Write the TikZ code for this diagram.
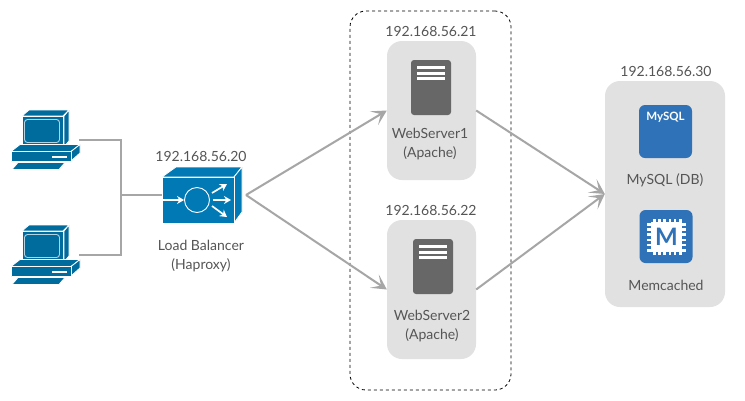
\documentclass[tikz,border=0pt]{standalone}
\usepackage{fontspec}
\setmainfont{Lato}
\usetikzlibrary{arrows.meta}
\definecolor{pcblue}{HTML}{006C9E}
\definecolor{lbblue}{HTML}{0079B5}
\definecolor{appblue}{HTML}{2F72B8}
\definecolor{boxgray}{HTML}{E1E1E1}
\definecolor{srvgray}{HTML}{676767}
\definecolor{txtgray}{HTML}{555555}
\definecolor{linegray}{HTML}{A6A6A6}
\tikzset{
  panel/.style={draw=none,fill=boxgray,rounded corners=15pt,inner sep=0pt,minimum width=89pt,minimum height=139pt},
  lbl/.style={text=txtgray,font=\fontsize{14}{16}\selectfont,inner sep=0pt,anchor=base},
  ip/.style={text=txtgray,font=\fontsize{14}{16}\selectfont,inner sep=0pt,anchor=base},
  wire/.style={draw=linegray,line width=2pt},
  flow/.style={wire,-{Stealth[length=15pt,width=16pt,inset=8pt]}},
  pcface/.style={fill=pcblue,draw=white,line width=0.8pt,line join=round},
  white arrow/.style={draw=white,line width=1.7pt,-{Stealth[length=7pt,width=8pt]}},
  appicon/.style={fill=appblue,rounded corners=6pt,inner sep=0pt,minimum width=53pt,minimum height=53pt},
  srvicon/.style={fill=srvgray,rounded corners=3pt,inner sep=0pt,minimum width=40pt,minimum height=55pt},
  pc/.pic={
    \path[pcface] (22,116) -- (29,110) -- (69,110) -- (63,116) -- cycle;
    \path[pcface] (64,116) -- (69,110) -- (69,141) -- (64,147) -- cycle;
    \path[pcface] (22,116.5) rectangle (63,146);
    \draw[draw=white!70!pcblue,line width=0.9pt,rounded corners=3pt] (24.5,119.5) rectangle (59.5,142.5);
    \path[pcface] (11,151.5) -- (20,144.5) -- (80,144.5) -- (71,151.5) -- cycle;
    \path[pcface] (71,151.5) -- (80,144.5) -- (80,153) -- (71,161) -- cycle;
    \path[pcface] (11,151.5) rectangle (71,161.5);
    \fill[white] (52,156) rectangle (67,158);
    \path[pcface] (12,169.5) -- (18,162.5) -- (65,162.5) -- (59,169.5) -- cycle;
  },
  srvlines/.pic={
    \fill[white] (-14,-22) rectangle (14,-19);
    \fill[white] (-14,-16) rectangle (14,-13);
    \fill[white] (-14,-10.5) rectangle (14,-7.5);
  }
}
\begin{document}
\begin{tikzpicture}[x=1pt,y=-1pt]
\useasboundingbox (0,0) rectangle (745,400);
\fill[white] (0,0) rectangle (745,400);
% group
\node[draw=black,dashed,line width=0.8pt,rounded corners=16pt,inner sep=0pt,minimum width=161pt,minimum height=379pt] (group) at (430.5,200.5) {};
% panels
\node[panel] (web1) at (431.5,110.5) {};
\node[panel] (web2) at (431.5,289.5) {};
\node[panel,minimum width=120pt,minimum height=226pt] (db) at (665,194) {};
% computers
\path (0,0) pic {pc};
\path (0,115) pic {pc};
\coordinate (pc1) at (79,140);
\coordinate (pc2) at (79,255);
\coordinate (hub) at (121,195);
% load balancer
\path[fill=lbblue,draw=white,line width=0.8pt,line join=round] (162,177) -- (176,167) -- (242,167) -- (234,177) -- cycle;
\path[fill=lbblue,draw=white,line width=0.8pt,line join=round] (234,177) -- (242,167) -- (242,212) -- (234,223) -- cycle;
\node[fill=lbblue,draw=white,line width=0.8pt,inner sep=0pt,minimum width=72pt,minimum height=46pt] (lb) at (198,200) {};
\coordinate (lbout) at (246,195);
\node[circle,draw=white,line width=0.9pt,inner sep=0pt,minimum size=25pt] (lbc) at (197,200) {};
\draw[white arrow] (163,200) -- (lbc.west);
\draw[white arrow] (212,193) -- (227,184);
\draw[white arrow] (213,200) -- (231,200);
\draw[white arrow] (212,206) -- (227,217);
% connectors
\draw[wire] (pc1) -| (hub);
\draw[wire] (pc2) -| (hub);
\draw[wire] (hub) -- (lb.west |- hub);
\draw[flow] (lbout) -- (web1.west);
\draw[flow] (lbout) -- (web2.west);
\draw[flow] (web1.east) -- (db.west);
\draw[flow] (web2.east) -- (db.west);
% servers
\node[srvicon] (srv1) at (431,87.5) {};
\path (431,87.5) pic {srvlines};
\node[srvicon] (srv2) at (433,266.5) {};
\path (433,266.5) pic {srvlines};
% app icons
\node[appicon] (mysql) at (665.5,131.5) {};
\node[text=white,font=\fontsize{11.5}{14}\selectfont\bfseries,inner sep=0pt,anchor=base] (mysqlt) at (665.5,120) {MySQL};
\node[appicon] (mem) at (666,236.5) {};
\foreach \i in {0,...,5}{
  \fill[white] ({653+\i*5.2},218.5) rectangle ({655.5+\i*5.2},255);
  \fill[white] (647,{223+\i*5.2}) rectangle (686,{225.5+\i*5.2});
}
\fill[white] (651,221.5) rectangle (682,252);
\node[text=appblue,font=\fontsize{24}{24}\selectfont\bfseries,inner sep=0pt] (memt) at (666.5,236.5) {M};
% labels
\node[ip] (ip21) at (431,36) {192.168.56.21};
\node[ip] (ip22) at (431,215) {192.168.56.22};
\node[ip] (ip20) at (201,161) {192.168.56.20};
\node[ip] (ip30) at (666,76) {192.168.56.30};
\node[lbl] (t1a) at (430,138) {WebServer1};
\node[lbl] (t1b) at (430,157) {(Apache)};
\node[lbl] (t2a) at (432,320) {WebServer2};
\node[lbl] (t2b) at (432,339) {(Apache)};
\node[lbl] (t3a) at (201,250) {Load Balancer};
\node[lbl] (t3b) at (201,269) {(Haproxy)};
\node[lbl] (t4) at (665,184) {MySQL (DB)};
\node[lbl] (t5) at (666,290) {Memcached};
\end{tikzpicture}
\end{document}
